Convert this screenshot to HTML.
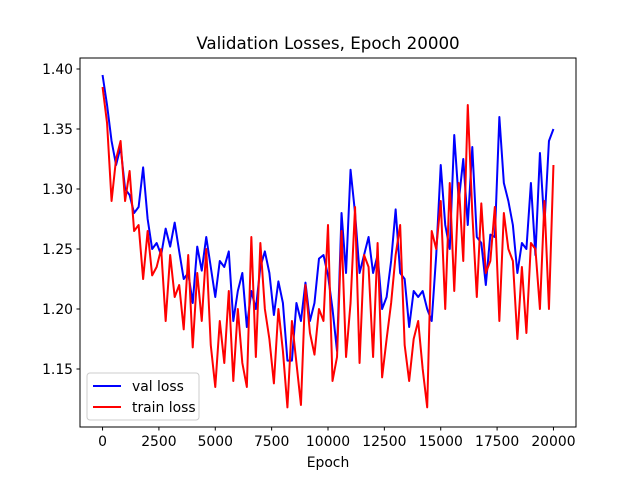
<!DOCTYPE html>
<html><head><meta charset="utf-8"><style>
html,body{margin:0;padding:0;background:#fff;}
svg{display:block;font-family:"DejaVu Sans","Liberation Sans",sans-serif;}
</style></head><body>
<svg id="chart" width="640" height="480">
<rect x="0" y="0" width="640" height="480" fill="#fff"/>
<text x="328" y="49" text-anchor="middle" font-size="16.7">Validation Losses, Epoch 20000</text>
<g id="ticks"></g>
<g id="series"></g>
<rect x="80" y="58" width="496" height="369" fill="none" stroke="#000" stroke-width="1"/>
<text x="328" y="467" text-anchor="middle" font-size="13.9">Epoch</text>
<g>
<rect x="87" y="373" width="112" height="47" rx="3" fill="#fff" fill-opacity="0.8" stroke="#ccc"/>
<g>
<line x1="93" y1="386" x2="121" y2="386" stroke="#0000ff" stroke-width="2"/>
<text x="132" y="391" font-size="13.9">val loss</text></g>
<g>
<line x1="93" y1="407" x2="121" y2="407" stroke="#ff0000" stroke-width="2"/>
<text x="132" y="412" font-size="13.9">train loss</text></g>
</g>
</svg>
<script>
const epochStep = 200;
const valLoss = [1.395,1.37,1.34,1.32,1.335,1.30,1.295,1.28,1.285,1.318,1.275,1.25,1.255,1.245,1.267,1.252,1.272,1.248,1.225,1.23,1.205,1.252,1.232,1.26,1.235,1.21,1.24,1.235,1.248,1.19,1.215,1.23,1.185,1.215,1.2,1.235,1.248,1.23,1.195,1.223,1.205,1.157,1.157,1.205,1.19,1.222,1.19,1.205,1.242,1.245,1.228,1.2,1.165,1.28,1.23,1.316,1.28,1.23,1.245,1.26,1.23,1.245,1.2,1.21,1.24,1.283,1.23,1.225,1.185,1.215,1.21,1.215,1.2,1.19,1.245,1.32,1.27,1.25,1.345,1.29,1.325,1.27,1.335,1.26,1.255,1.22,1.262,1.26,1.36,1.305,1.29,1.27,1.23,1.255,1.25,1.305,1.245,1.33,1.27,1.34,1.35];
const trainLoss = [1.385,1.355,1.29,1.325,1.34,1.29,1.315,1.265,1.27,1.225,1.265,1.228,1.235,1.25,1.19,1.245,1.21,1.22,1.183,1.245,1.168,1.23,1.19,1.25,1.17,1.135,1.19,1.155,1.215,1.14,1.2,1.155,1.135,1.26,1.16,1.255,1.2,1.175,1.138,1.2,1.165,1.118,1.19,1.155,1.12,1.22,1.18,1.162,1.2,1.19,1.27,1.14,1.16,1.265,1.16,1.205,1.285,1.155,1.245,1.235,1.16,1.255,1.143,1.175,1.205,1.245,1.27,1.17,1.14,1.175,1.19,1.15,1.118,1.265,1.25,1.29,1.2,1.305,1.215,1.305,1.24,1.37,1.28,1.21,1.288,1.23,1.24,1.285,1.19,1.28,1.25,1.24,1.175,1.235,1.18,1.255,1.25,1.2,1.29,1.2,1.32];
const xTicks = [0,2500,5000,7500,10000,12500,15000,17500,20000];
const yTicks = [1.15,1.20,1.25,1.30,1.35,1.40];

const NS = "http://www.w3.org/2000/svg";
function xScale(e){ return 80 + (e + 1000) * 496 / 22000; }
function yScale(v){ return 69 + (1.40 - v) * 1200; }

const tg = document.getElementById('ticks');
xTicks.forEach(t => {
  const x = xScale(t);
  const l = document.createElementNS(NS,'line');
  l.setAttribute('x1',x); l.setAttribute('x2',x); l.setAttribute('y1',427); l.setAttribute('y2',430.5);
  l.setAttribute('stroke','#000');
  
  
  tg.appendChild(l);
  const tx = document.createElementNS(NS,'text');
  tx.setAttribute('x',x); tx.setAttribute('y',446); tx.setAttribute('text-anchor','middle'); tx.setAttribute('font-size','13.9');
  tx.textContent = t;
  
  
  tg.appendChild(tx);
});
yTicks.forEach(t => {
  const y = yScale(t);
  const l = document.createElementNS(NS,'line');
  l.setAttribute('x1',76.5); l.setAttribute('x2',80); l.setAttribute('y1',y); l.setAttribute('y2',y);
  l.setAttribute('stroke','#000');
  
  
  tg.appendChild(l);
  const tx = document.createElementNS(NS,'text');
  tx.setAttribute('x',73); tx.setAttribute('y',y+5); tx.setAttribute('text-anchor','end'); tx.setAttribute('font-size','13.9');
  tx.textContent = t.toFixed(2);
  
  
  tg.appendChild(tx);
});

const sg = document.getElementById('series');
function drawLine(arr, color, name){
  const p = document.createElementNS(NS,'polyline');
  p.setAttribute('points', arr.map((v,i)=> xScale(i*epochStep).toFixed(2)+','+yScale(v).toFixed(2)).join(' '));
  p.setAttribute('fill','none'); p.setAttribute('stroke',color); p.setAttribute('stroke-width','2');
  p.setAttribute('stroke-linejoin','round');
  
  
  sg.appendChild(p);
}
drawLine(valLoss,'#0000ff','val-loss-line');
drawLine(trainLoss,'#ff0000','train-loss-line');
</script>
</body></html>
